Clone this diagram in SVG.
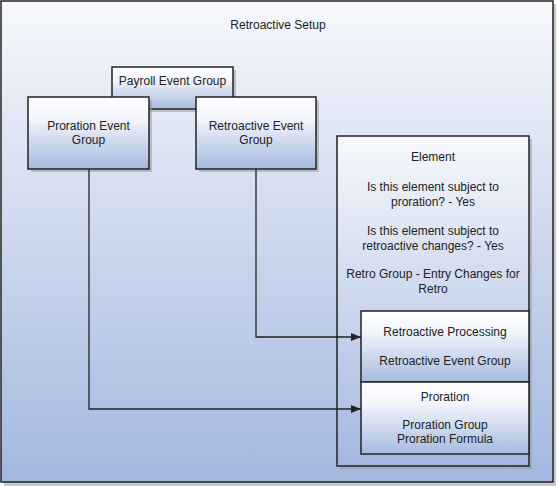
<svg xmlns="http://www.w3.org/2000/svg" width="558" height="486" viewBox="0 0 558 486">
<defs>
<linearGradient id="bg" x1="0" y1="0" x2="0" y2="1">
<stop offset="0" stop-color="#f6f8fc"/>
<stop offset="1" stop-color="#a3b7df"/>
</linearGradient>
<linearGradient id="nd" x1="0" y1="0" x2="0" y2="1">
<stop offset="0" stop-color="#ffffff"/>
<stop offset="0.3" stop-color="#f2f5fb"/>
<stop offset="1" stop-color="#a6badf"/>
</linearGradient>
<marker id="arr" markerWidth="10" markerHeight="8" refX="10" refY="4" orient="auto" markerUnits="userSpaceOnUse">
<path d="M0,0 L10,4 L0,8 Z" fill="#222"/>
</marker>
</defs>
<style>
.box{stroke:#222;stroke-width:1.5;fill:url(#nd)}
.sh{fill:#9a9a9a;opacity:0.55}
.t{font-family:"Liberation Sans",Arial,sans-serif;font-size:12px;fill:#222;text-anchor:middle}
.c{fill:none;stroke:#222;stroke-width:1.3}
</style>
<g id="retroactive-setup">
<rect class="sh" x="4" y="4" width="552" height="482"/>
<rect x="1" y="1" width="552" height="481" fill="url(#bg)" stroke="#222" stroke-width="1.5"/>
<text class="t" x="278" y="29">Retroactive Setup</text>
</g>
<g id="payroll-event-group">
<rect class="sh" x="115" y="70" width="121" height="42"/>
<rect class="box" x="112" y="67" width="121" height="42"/>
<text class="t" x="172.5" y="85">Payroll Event Group</text>
</g>
<g id="proration-event-group">
<rect class="sh" x="31" y="100" width="121" height="72"/>
<rect class="box" x="28" y="97" width="121" height="72"/>
<text class="t" x="88.5" y="130">Proration Event</text>
<text class="t" x="88.5" y="144">Group</text>
</g>
<g id="retroactive-event-group">
<rect class="sh" x="199" y="100" width="120" height="72"/>
<rect class="box" x="196" y="97" width="120" height="72"/>
<text class="t" x="256" y="130">Retroactive Event</text>
<text class="t" x="256" y="144">Group</text>
</g>
<g id="element">
<rect class="sh" x="340" y="139" width="192" height="330"/>
<rect x="337" y="136" width="192" height="330" fill="url(#bg)" stroke="#222" stroke-width="1.5"/>
<text class="t" x="433" y="161">Element</text>
<text class="t" x="433" y="191">Is this element subject to</text>
<text class="t" x="433" y="206">proration? - Yes</text>
<text class="t" x="433" y="235">Is this element subject to</text>
<text class="t" x="433" y="250">retroactive changes? - Yes</text>
<text class="t" x="433" y="278">Retro Group - Entry Changes for</text>
<text class="t" x="433" y="293">Retro</text>
</g>
<g id="retroactive-processing">
<rect class="box" x="361" y="311" width="168" height="71"/>
<text class="t" x="445" y="336">Retroactive Processing</text>
<text class="t" x="445" y="365">Retroactive Event Group</text>
</g>
<g id="proration">
<rect class="box" x="361" y="382" width="168" height="72"/>
<text class="t" x="445" y="401">Proration</text>
<text class="t" x="445" y="429">Proration Group</text>
<text class="t" x="445" y="443">Proration Formula</text>
</g>
<g id="connectors">
<polyline class="c" points="256,169 256,337 361,337" marker-end="url(#arr)"/>
<polyline class="c" points="89,169 89,409 361,409" marker-end="url(#arr)"/>
</g>
</svg>
